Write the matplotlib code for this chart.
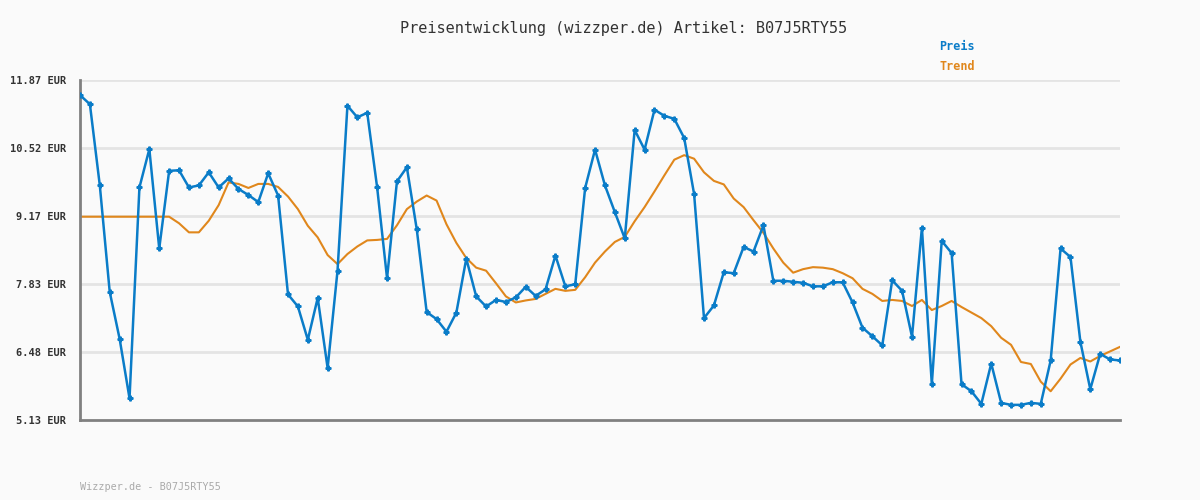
import numpy as np
import matplotlib.pyplot as plt

# Preisverlauf
preis = [11.57, 11.39, 9.78, 7.67, 6.74, 5.56, 9.74, 10.50, 8.53, 10.07,
         10.08, 9.74, 9.78, 10.04, 9.74, 9.92, 9.71, 9.59, 9.45, 10.02,
         9.58, 7.62, 7.38, 6.72, 7.55, 6.16, 8.09, 11.36, 11.13, 11.22,
         9.74, 7.94, 9.86, 10.14, 8.91, 7.27, 7.13, 6.88, 7.26, 8.33,
         7.58, 7.38, 7.51, 7.47, 7.56, 7.77, 7.59, 7.72, 8.39, 7.78,
         7.82, 9.73, 10.49, 9.78, 9.25, 8.73, 10.88, 10.49, 11.28, 11.16,
         11.10, 10.72, 9.61, 7.15, 7.40, 8.06, 8.04, 8.56, 8.47, 8.99,
         7.89, 7.89, 7.87, 7.85, 7.78, 7.78, 7.86, 7.86, 7.46, 6.96,
         6.79, 6.61, 7.90, 7.69, 6.78, 8.94, 5.84, 8.68, 8.44, 5.84,
         5.70, 5.45, 6.25, 5.47, 5.43, 5.43, 5.47, 5.45, 6.31, 8.53,
         8.36, 6.68, 5.74, 6.44, 6.33, 6.31]

trend = [9.16, 9.16, 9.16, 9.16, 9.16, 9.16, 9.16, 9.16, 9.16, 9.16,
         9.03, 8.85, 8.85, 9.08, 9.39, 9.84, 9.81, 9.73, 9.81, 9.81,
         9.75, 9.56, 9.31, 8.98, 8.75, 8.40, 8.22, 8.42, 8.57, 8.69,
         8.70, 8.72, 8.99, 9.31, 9.46, 9.58, 9.48, 9.01, 8.64, 8.34,
         8.15, 8.09, 7.84, 7.58, 7.46, 7.50, 7.53, 7.63, 7.73, 7.69,
         7.71, 7.96, 8.25, 8.47, 8.66, 8.76, 9.07, 9.35, 9.66, 9.98,
         10.29, 10.38, 10.31, 10.04, 9.87, 9.80, 9.52, 9.35, 9.09, 8.84,
         8.53, 8.25, 8.05, 8.12, 8.16, 8.15, 8.12, 8.04, 7.94, 7.73,
         7.63, 7.49, 7.51, 7.49, 7.39, 7.51, 7.31, 7.39, 7.49, 7.37,
         7.26, 7.15, 6.99, 6.76, 6.62, 6.28, 6.24, 5.89, 5.70, 5.95,
         6.23, 6.36, 6.29, 6.40, 6.49, 6.58]

yticks = [5.13, 6.48, 7.83, 9.17, 10.52, 11.87]
ytick_labels = ["5.13 EUR", "6.48 EUR", "7.83 EUR", "9.17 EUR", "10.52 EUR", "11.87 EUR"]

blau = '#0a7cc8'
orange = '#e0871c'
bg = '#fafafa'
mono = 'DejaVu Sans Mono'

x = np.arange(len(preis))

fig = plt.figure(figsize=(12, 5), dpi=100, facecolor=bg)
ax = fig.add_axes([80/1200, 80/500, 1040/1200, 340/500])
ax.set_facecolor(bg)

for yv in yticks[1:]:
    ax.axhline(yv, color='#e4e4e4', lw=2, zorder=1)

ax.plot(x, trend, color=orange, lw=1.5, zorder=2)
ax.plot(x, preis, color=blau, lw=1.8, marker='P', markersize=3.5, zorder=3)

ax.set_xlim(0, len(preis) - 1)
ax.set_ylim(5.13, 11.87)
ax.set_yticks(yticks)
ax.set_yticklabels(ytick_labels, family=mono, fontsize=7.5,
                   fontweight='bold', color='#333333')
ax.set_xticks([])
ax.tick_params(axis='y', length=0, pad=10)

for s in ['top', 'right']:
    ax.spines[s].set_visible(False)
for s in ['left', 'bottom']:
    ax.spines[s].set_color('#808080')
    ax.spines[s].set_linewidth(2)

fig.text(624/1200, 1 - 28/500, 'Preisentwicklung (wizzper.de) Artikel: B07J5RTY55',
         ha='center', va='center', family=mono, fontsize=11, color='#333333')
fig.text(939/1200, 1 - 47/500, 'Preis', ha='left', va='center',
         family=mono, fontsize=8.5, fontweight='bold', color=blau)
fig.text(939/1200, 1 - 67/500, 'Trend', ha='left', va='center',
         family=mono, fontsize=8.5, fontweight='bold', color=orange)
fig.text(80/1200, 1 - 487/500, 'Wizzper.de - B07J5RTY55', ha='left', va='center',
         family=mono, fontsize=7.3, color='#aaaaaa')

fig.savefig('out.png', dpi=100, facecolor=bg)
